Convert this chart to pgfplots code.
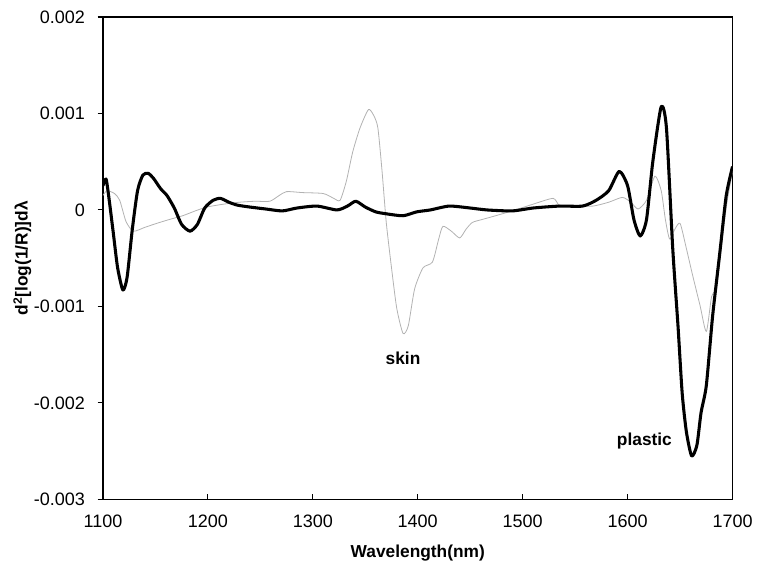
\documentclass[border=0pt]{standalone}
\usepackage{pgfplots}
\pgfplotsset{compat=1.18}
\usepackage{fontspec}
\setmainfont{Liberation Sans}
\begin{document}
\begin{tikzpicture}
\begin{axis}[
  scale only axis,
  width=472.5pt, height=362pt,
  xmin=1100, xmax=1700, ymin=-0.003, ymax=0.002,
  scaled y ticks=false,
  xtick={1100,1200,1300,1400,1500,1600,1700},
  xticklabels={1100,1200,1300,1400,1500,1600,1700},
  ytick={-0.003,-0.002,-0.001,0,0.001,0.002},
  yticklabels={-0.003,-0.002,-0.001,0,0.001,0.002},
  xtick pos=bottom, ytick pos=left,
  xtick align=inside, ytick align=outside,
  major tick length=4pt,
  tick style={black, line width=0.8pt},
  axis line style={line width=1pt},
  tick label style={font=\fontsize{13.5}{15}\selectfont},
  xticklabel style={yshift=-8pt},
  yticklabel style={xshift=-6pt},
  xlabel={\textbf{Wavelength(nm)}},
  ylabel={\textbf{d\textsuperscript{2}[log(1/R)]dλ}},
  label style={font=\fontsize{13}{15}\selectfont},
  xlabel style={yshift=-6pt},
  ylabel style={yshift=-5pt},
  clip=true,
]
\addplot[gray!60, line width=0.6pt, smooth, tension=0.4] coordinates {
(1100,0.00015) (1104,0.0002) (1111,0.00017) (1116,0.0001) (1122,-0.00012)
(1129,-0.00022) (1140,-0.00018) (1151,-0.00014) (1163,-0.0001) (1176,-0.00006)
(1188,-0.00001) (1199,0.00003) (1215,0.00006) (1230,0.00008) (1245,0.00009)
(1259,0.00009) (1268,0.00015) (1275,0.00019) (1290,0.00018) (1310,0.00017)
(1320,0.00012) (1326,0.0001) (1332,0.0003) (1338,0.0006) (1345,0.00085)
(1353,0.00104) (1358,0.00098) (1362,0.00085) (1366,0.0004) (1370,-0.00013)
(1375,-0.0006) (1380,-0.00102) (1386,-0.00128) (1391,-0.0012) (1397,-0.00082)
(1405,-0.0006) (1414,-0.00054) (1420,-0.0003) (1424,-0.00017) (1432,-0.00022)
(1440,-0.00029) (1446,-0.0002) (1452,-0.00013) (1461,-0.0001) (1471,-0.00007)
(1490,-0.00001) (1510,0.00006) (1529,0.00012) (1535,0.00005) (1550,0.00004)
(1567,0.00004) (1582,0.00008) (1595,0.00013) (1603,0.00008) (1610,0.00001)
(1618,0.0001) (1626,0.00035) (1632,0.0002) (1636,-0.0001) (1640,-0.0003)
(1645,-0.0002) (1650,-0.00014) (1656,-0.0004) (1662,-0.00068) (1669,-0.00099)
(1675,-0.00126) (1680,-0.0009) (1685,-0.00079) (1691,-0.00023) (1695,0.0001)
(1700,0.0004)
};
\addplot[black, line width=2.3pt, smooth, tension=0.4, line join=round] coordinates {
(1100,0.00025) (1103,0.00032) (1106,0.0001) (1110,-0.00025) (1114,-0.0006)
(1119,-0.00083) (1123,-0.0007) (1128,-0.0002) (1133,0.0002) (1138,0.00036)
(1143,0.00038) (1148,0.00033) (1155,0.00022) (1161,0.00015) (1168,0.00002)
(1175,-0.00015) (1183,-0.00022) (1190,-0.00015) (1197,0.00002) (1205,0.0001)
(1212,0.00012) (1220,0.00008) (1228,0.00005) (1240,0.00003) (1255,0.00001)
(1271,-0.00001) (1285,0.00002) (1304,0.00004) (1323,0.0) (1333,0.00004)
(1341,0.00009) (1350,0.00003) (1360,-0.00002) (1370,-0.00004) (1386,-0.00006)
(1399,-0.00002) (1412,0.0) (1430,0.00004) (1450,0.00002) (1466,0.0)
(1490,-0.00001) (1510,0.00002) (1535,0.00004) (1557,0.00004) (1570,0.0001)
(1582,0.0002) (1592,0.0004) (1600,0.00025) (1606,-0.0001) (1612,-0.00027)
(1618,-0.0001) (1624,0.0005) (1632,0.00107) (1637,0.00085) (1643,-0.0004)
(1648,-0.0012) (1652,-0.0019) (1656,-0.0023) (1661,-0.00255) (1666,-0.00244)
(1670,-0.0021) (1675,-0.00182) (1681,-0.0011) (1688,-0.00043) (1694,0.00015)
(1700,0.00045)
};
\node[font=\bfseries\fontsize{13}{15}\selectfont] at (axis cs:1386,-0.00154) {skin};
\node[font=\bfseries\fontsize{13}{15}\selectfont] at (axis cs:1616,-0.0024) {plastic};
\end{axis}
\path[use as bounding box] ([xshift=-77.25pt,yshift=-54pt]current axis.south west) rectangle ([xshift=18pt,yshift=12.75pt]current axis.north east);
\end{tikzpicture}
\end{document}
